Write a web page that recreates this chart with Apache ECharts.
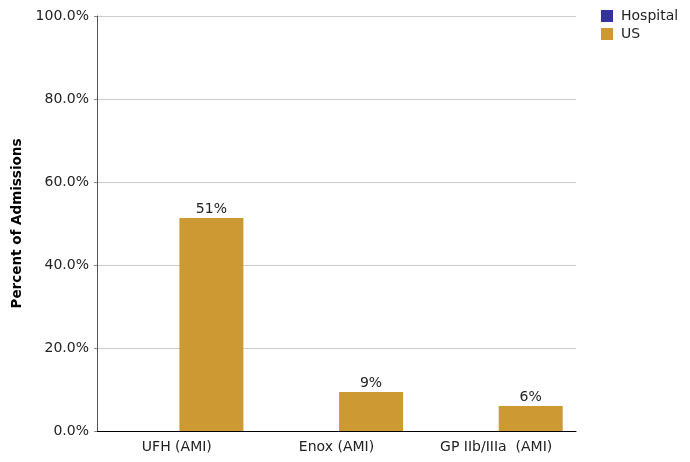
<!DOCTYPE html>
<html>
<head>
<meta charset="utf-8">
<script src="https://cdn.jsdelivr.net/npm/echarts@6/dist/echarts.min.js"></script>
<style>
  html, body { margin: 0; padding: 0; background: #fff; }
  #chart { width: 690px; height: 462px; }
</style>
</head>
<body>
<div id="chart"></div>
<script>
// Anticoagulant use among AMI admissions
const categories = ['UFH (AMI)', 'Enox (AMI)', 'GP IIb/IIIa  (AMI)'];
const hospitalValues = [0, 0, 0];
const usValues = [51.3, 9.4, 6.0];
const usLabels = ['51%', '9%', '6%'];
const yTicks = [0, 20, 40, 60, 80, 100];

const FONT = 'DejaVu Sans';
const chart = echarts.init(document.getElementById('chart'));

chart.setOption({
  animation: false,
  textStyle: { fontFamily: FONT },
  grid: { left: 97, right: 114, top: 16, bottom: 31, containLabel: false, outerBoundsMode: 'none' },
  legend: {
    orient: 'vertical',
    left: 596,
    top: 4,
    itemWidth: 12,
    itemHeight: 12,
    itemGap: 4,
    icon: 'rect',
    textStyle: { fontFamily: FONT, fontSize: 14, color: '#222', padding: [0, 0, 0, 3] },
    data: ['Hospital', 'US']
  },
  xAxis: {
    type: 'category',
    data: categories,
    axisLine: { lineStyle: { color: '#000', width: 1 } },
    axisTick: { show: false },
    axisLabel: { fontFamily: FONT, fontSize: 14, color: '#222', margin: 9 }
  },
  yAxis: {
    type: 'value',
    min: yTicks[0],
    max: yTicks[yTicks.length - 1],
    interval: 20,
    name: 'Percent of Admissions',
    nameLocation: 'middle',
    nameGap: 70,
    nameTextStyle: { fontFamily: FONT, fontSize: 13.5, fontWeight: 'bold', color: '#000' },
    axisLine: { show: true, lineStyle: { color: '#555', width: 1 } },
    axisTick: { show: true, length: 3, lineStyle: { color: '#888' } },
    splitLine: { lineStyle: { color: '#cccccc', width: 1 } },
    axisLabel: {
      fontFamily: FONT, fontSize: 14, color: '#222', margin: 8,
      formatter: v => v.toFixed(1) + '%'
    }
  },
  series: [
    {
      name: 'Hospital',
      type: 'bar',
      data: hospitalValues,
      barWidth: 64,
      barGap: '8%',
      itemStyle: { color: '#333399' }
    },
    {
      name: 'US',
      type: 'bar',
      data: usValues,
      barWidth: 64,
      barGap: '8%',
      itemStyle: { color: '#CC9933' },
      label: {
        show: true,
        position: 'top',
        distance: 2,
        fontFamily: FONT,
        fontSize: 14,
        color: '#222',
        formatter: p => usLabels[p.dataIndex]
      }
    }
  ]
});
</script>
</body>
</html>
